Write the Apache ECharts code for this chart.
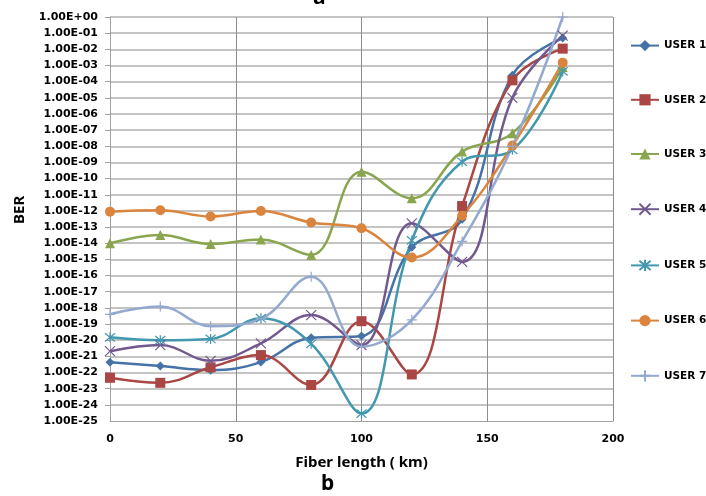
<!DOCTYPE html>
<html>
<head>
<meta charset="utf-8">
<script src="https://cdn.jsdelivr.net/npm/echarts@6/dist/echarts.min.js"></script>
<style>
  html, body { margin: 0; padding: 0; background: #fff; }
  #chart { width: 706px; height: 496px; }
</style>
</head>
<body>
<div id="chart"></div>
<script>
// fiber length (km)
var lengths = [0, 20, 40, 60, 80, 100, 120, 140, 160, 180];

// BER per user
var user1 = [4.3e-22, 2.5e-22, 1.4e-22, 4.4e-22, 1.4e-20, 1.8e-20, 5.6e-15, 3e-13, 2.5e-4, 5e-2];
var user2 = [4.7e-23, 2.3e-23, 2.1e-22, 1.2e-21, 1.7e-23, 1.5e-19, 7.6e-23, 2e-12, 1.2e-4, 1.1e-2];
var user3 = [1e-14, 3.2e-14, 9e-15, 1.7e-14, 1.9e-15, 2.7e-10, 6e-12, 4.7e-9, 6.5e-8, 8e-4];
var user4 = [2.1e-21, 5e-21, 5.3e-22, 6.3e-21, 3.6e-19, 5e-21, 1.7e-13, 7e-16, 1e-5, 7e-2];
var user5 = [1.5e-20, 1e-20, 1.2e-20, 2.3e-19, 6e-21, 2.9e-25, 1.5e-14, 1.1e-9, 6e-9, 4.3e-4];
var user6 = [9e-13, 1.1e-12, 4.5e-13, 1e-12, 1.9e-13, 8.5e-14, 1.3e-15, 5e-13, 1.1e-8, 1.5e-3];
var user7 = [4e-19, 1.2e-18, 7.4e-20, 2.1e-19, 8.5e-17, 4e-21, 1.8e-19, 1.3e-14, 1e-8, 1];

var names = ['USER 1', 'USER 2', 'USER 3', 'USER 4', 'USER 5', 'USER 6', 'USER 7'];
var values = [user1, user2, user3, user4, user5, user6, user7];

var colors = ['#4572A7', '#AA4643', '#89A54E', '#71588F', '#4198AF', '#DB843D', '#93A9CF'];
var symbols = [
    'diamond', 'rect', 'triangle',
    'path://M0,0L10,10M10,0L0,10',
    'path://M0,0L10,10M10,0L0,10M5,-1L5,11',
    'circle',
    'path://M5,0L5,10M0,5L10,5'
];
var sizes = [9, 10, 10, 10, 10, 10, 10];

function sci(v) {
    var e = Math.round(Math.log(v) / Math.LN10);
    var s = e < 0 ? '-' : '+';
    var a = Math.abs(e);
    return '1.00E' + s + (a < 10 ? '0' + a : a);
}

var series = names.map(function (n, i) {
    var stroked = symbols[i].indexOf('path://') === 0;
    return {
        name: n,
        type: 'line',
        smooth: 0.4,
        symbol: symbols[i],
        symbolSize: sizes[i],
        lineStyle: { width: 2.5, color: colors[i] },
        itemStyle: {
            color: colors[i],
            borderColor: colors[i],
            borderWidth: stroked ? 1.2 : 0
        },
        data: lengths.map(function (x, k) { return [x, values[i][k]]; })
    };
});

var myChart = echarts.init(document.getElementById('chart'));

var option = {
    animation: false,
    color: colors,
    grid: { left: 110, right: 93, top: 17, bottom: 75, containLabel: false, outerBoundsMode: 'none' },
    legend: {
        orient: 'vertical',
        left: 630,
        top: 40,
        padding: 0,
        itemWidth: 28,
        itemHeight: 14,
        itemGap: 43,
        textStyle: { fontFamily: 'DejaVu Sans', fontWeight: 'bold', fontSize: 10.5, color: '#000' },
        data: names
    },
    xAxis: {
        type: 'value',
        min: 0,
        max: 200,
        interval: 50,
        name: 'Fiber length ( km)',
        nameLocation: 'middle',
        nameGap: 34,
        nameTextStyle: { fontFamily: 'Noto Sans', fontWeight: 'bold', fontSize: 15, color: '#000' },
        axisLine: { lineStyle: { color: '#a0a0a0', width: 1 } },
        axisTick: { show: false },
        axisLabel: { margin: 13, fontFamily: 'DejaVu Sans', fontWeight: 'bold', fontSize: 11, color: '#000' },
        splitLine: { show: true, lineStyle: { color: '#8c8c8c', width: 1 } }
    },
    yAxis: {
        type: 'log',
        logBase: 10,
        min: 1e-25,
        max: 1,
        interval: 1,
        axisLine: { show: true, lineStyle: { color: '#a0a0a0', width: 1 } },
        axisTick: { show: true, length: 5, lineStyle: { color: '#a0a0a0' } },
        axisLabel: {
            margin: 12,
            showMinLabel: true,
            showMaxLabel: true,
            fontFamily: 'DejaVu Sans',
            fontWeight: 'bold',
            fontSize: 11,
            color: '#000',
            formatter: sci
        },
        splitLine: { show: true, lineStyle: { color: '#c4c4c4', width: 2 } }
    },
    graphic: [
        { type: 'text', x: 313, y: -12, style: { text: 'a', fontFamily: 'Noto Sans', fontWeight: 'bold', fontSize: 21, fill: '#000' } },
        { type: 'text', x: 321, y: 474, style: { text: 'b', fontFamily: 'Noto Sans', fontWeight: 'bold', fontSize: 21, fill: '#000' } },
        { type: 'text', x: 12, y: 224, rotation: Math.PI / 2, style: { text: 'BER', fontFamily: 'Noto Sans', fontWeight: 'bold', fontSize: 15, fill: '#000' } },
        // bottom tick label, which the log axis drops
        { type: 'text', x: 98, y: 421, style: { text: sci(1e-25), align: 'right', verticalAlign: 'middle', fontFamily: 'DejaVu Sans', fontWeight: 'bold', fontSize: 11, fill: '#000' } }
    ],
    series: series
};

myChart.setOption(option);
</script>
</body>
</html>
